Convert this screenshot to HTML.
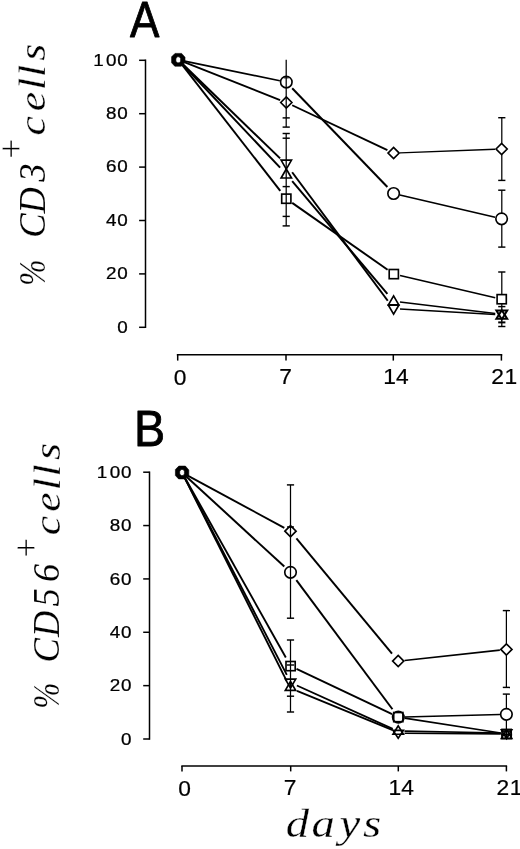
<!DOCTYPE html>
<html><head><meta charset="utf-8"><title>Figure</title>
<style>html,body{margin:0;padding:0;background:#fff}svg{display:block}text{white-space:pre}</style></head>
<body>
<svg width="520" height="849" viewBox="0 0 520 849">
<g fill="none" stroke="#000" stroke-linejoin="miter">
<line x1="145.50" y1="59.50" x2="145.50" y2="328.00" stroke-width="1.5" stroke-linecap="butt"/>
<line x1="139.10" y1="327.30" x2="145.50" y2="327.30" stroke-width="1.5" stroke-linecap="butt"/>
<line x1="139.10" y1="273.90" x2="145.50" y2="273.90" stroke-width="1.5" stroke-linecap="butt"/>
<line x1="139.10" y1="220.50" x2="145.50" y2="220.50" stroke-width="1.5" stroke-linecap="butt"/>
<line x1="139.10" y1="167.10" x2="145.50" y2="167.10" stroke-width="1.5" stroke-linecap="butt"/>
<line x1="139.10" y1="113.70" x2="145.50" y2="113.70" stroke-width="1.5" stroke-linecap="butt"/>
<line x1="139.10" y1="60.30" x2="145.50" y2="60.30" stroke-width="1.5" stroke-linecap="butt"/>
<line x1="176.80" y1="354.80" x2="502.30" y2="354.80" stroke-width="1.5" stroke-linecap="butt"/>
<line x1="177.70" y1="354.80" x2="177.70" y2="360.60" stroke-width="1.5" stroke-linecap="butt"/>
<line x1="286.00" y1="354.80" x2="286.00" y2="360.60" stroke-width="1.5" stroke-linecap="butt"/>
<line x1="393.30" y1="354.80" x2="393.30" y2="360.60" stroke-width="1.5" stroke-linecap="butt"/>
<line x1="501.40" y1="354.80" x2="501.40" y2="360.60" stroke-width="1.5" stroke-linecap="butt"/>
<line x1="184.57" y1="61.11" x2="279.84" y2="80.77" stroke-width="1.64" stroke-linecap="butt"/>
<line x1="292.20" y1="88.23" x2="387.40" y2="187.06" stroke-width="1.98" stroke-linecap="butt"/>
<line x1="399.83" y1="194.96" x2="495.17" y2="217.29" stroke-width="1.67" stroke-linecap="butt"/>
<line x1="184.25" y1="62.19" x2="280.10" y2="100.05" stroke-width="1.8" stroke-linecap="butt"/>
<line x1="292.20" y1="105.28" x2="387.40" y2="150.18" stroke-width="1.85" stroke-linecap="butt"/>
<line x1="400.00" y1="152.86" x2="495.00" y2="149.25" stroke-width="1.46" stroke-linecap="butt"/>
<line x1="182.19" y1="64.93" x2="280.28" y2="190.97" stroke-width="1.96" stroke-linecap="butt"/>
<line x1="292.20" y1="202.84" x2="387.60" y2="269.75" stroke-width="1.95" stroke-linecap="butt"/>
<line x1="400.03" y1="275.55" x2="495.27" y2="297.70" stroke-width="1.67" stroke-linecap="butt"/>
<line x1="182.87" y1="64.32" x2="280.10" y2="158.40" stroke-width="1.98" stroke-linecap="butt"/>
<line x1="292.15" y1="172.26" x2="387.75" y2="300.74" stroke-width="1.96" stroke-linecap="butt"/>
<line x1="399.99" y1="308.97" x2="495.21" y2="314.42" stroke-width="1.48" stroke-linecap="butt"/>
<line x1="182.66" y1="64.52" x2="280.10" y2="167.64" stroke-width="1.98" stroke-linecap="butt"/>
<line x1="292.20" y1="181.19" x2="387.40" y2="293.96" stroke-width="1.97" stroke-linecap="butt"/>
<line x1="399.95" y1="302.06" x2="495.25" y2="313.42" stroke-width="1.55" stroke-linecap="butt"/>
<path d="M171.60 56.80L175.00 53.40L181.60 53.40L185.00 57.20L185.00 62.40L181.40 66.20L174.80 66.20L171.60 62.80Z M175.90 58.80L175.90 61.40L177.60 62.80L179.40 62.80L180.60 61.20L180.60 58.40L179.20 56.80L177.20 56.80Z" fill="#000" fill-rule="evenodd" stroke-width="0.6" stroke-linejoin="round"/>
<circle cx="286.30" cy="82.10" r="5.75" stroke-width="1.65"/>
<circle cx="393.60" cy="193.50" r="5.75" stroke-width="1.65"/>
<circle cx="501.60" cy="218.80" r="5.75" stroke-width="1.65"/>
<path d="M280.70 102.50L286.30 96.90L291.90 102.50L286.30 108.10Z" stroke-width="1.65"/>
<path d="M388.00 153.10L393.60 147.50L399.20 153.10L393.60 158.70Z" stroke-width="1.65"/>
<path d="M496.00 149.00L501.60 143.40L507.20 149.00L501.60 154.60Z" stroke-width="1.65"/>
<rect x="281.70" y="194.10" width="9.2" height="9.2" stroke-width="1.65"/>
<rect x="389.20" y="269.50" width="9.2" height="9.2" stroke-width="1.65"/>
<rect x="497.10" y="294.60" width="9.2" height="9.2" stroke-width="1.65"/>
<path d="M281.10 160.10L291.50 160.10L286.30 169.10Z" stroke-width="1.65"/>
<path d="M281.10 178.00L291.50 178.00L286.30 169.00Z" stroke-width="1.65"/>
<path d="M388.40 304.80L398.80 304.80L393.60 295.80Z" stroke-width="1.65"/>
<path d="M388.40 305.20L398.80 305.20L393.60 314.10Z" stroke-width="1.65"/>
<path d="M496.40 318.80L507.20 318.80L501.80 310.20Z" stroke-width="2.0"/>
<path d="M496.40 310.60L507.20 310.60L501.80 319.40Z" stroke-width="2.0"/>
<line x1="286.20" y1="59.80" x2="286.20" y2="127.10" stroke-width="1.25" stroke-linecap="butt"/>
<line x1="286.20" y1="133.50" x2="286.20" y2="225.90" stroke-width="1.25" stroke-linecap="butt"/>
<line x1="282.60" y1="117.90" x2="289.80" y2="117.90" stroke-width="1.45" stroke-linecap="butt"/>
<line x1="282.60" y1="127.10" x2="289.80" y2="127.10" stroke-width="1.45" stroke-linecap="butt"/>
<line x1="282.60" y1="133.50" x2="289.80" y2="133.50" stroke-width="1.45" stroke-linecap="butt"/>
<line x1="282.60" y1="138.20" x2="289.80" y2="138.20" stroke-width="1.45" stroke-linecap="butt"/>
<line x1="282.60" y1="186.60" x2="289.80" y2="186.60" stroke-width="1.45" stroke-linecap="butt"/>
<line x1="282.60" y1="216.40" x2="289.80" y2="216.40" stroke-width="1.45" stroke-linecap="butt"/>
<line x1="282.60" y1="225.90" x2="289.80" y2="225.90" stroke-width="1.45" stroke-linecap="butt"/>
<line x1="283.70" y1="77.90" x2="288.70" y2="77.90" stroke-width="1.0" stroke-linecap="butt"/>
<line x1="501.80" y1="117.70" x2="501.80" y2="143.50" stroke-width="1.25" stroke-linecap="butt"/>
<line x1="501.80" y1="154.50" x2="501.80" y2="180.40" stroke-width="1.25" stroke-linecap="butt"/>
<line x1="498.20" y1="117.70" x2="505.40" y2="117.70" stroke-width="1.45" stroke-linecap="butt"/>
<line x1="498.20" y1="180.40" x2="505.40" y2="180.40" stroke-width="1.45" stroke-linecap="butt"/>
<line x1="501.80" y1="190.20" x2="501.80" y2="213.00" stroke-width="1.25" stroke-linecap="butt"/>
<line x1="501.80" y1="224.60" x2="501.80" y2="247.10" stroke-width="1.25" stroke-linecap="butt"/>
<line x1="498.20" y1="190.20" x2="505.40" y2="190.20" stroke-width="1.45" stroke-linecap="butt"/>
<line x1="498.20" y1="247.10" x2="505.40" y2="247.10" stroke-width="1.45" stroke-linecap="butt"/>
<line x1="501.80" y1="272.00" x2="501.80" y2="294.50" stroke-width="1.25" stroke-linecap="butt"/>
<line x1="498.20" y1="272.00" x2="505.40" y2="272.00" stroke-width="1.45" stroke-linecap="butt"/>
<line x1="501.80" y1="304.00" x2="501.80" y2="309.50" stroke-width="1.25" stroke-linecap="butt"/>
<line x1="498.20" y1="306.60" x2="505.40" y2="306.60" stroke-width="1.45" stroke-linecap="butt"/>
<line x1="501.80" y1="319.50" x2="501.80" y2="326.50" stroke-width="1.25" stroke-linecap="butt"/>
<line x1="498.20" y1="322.40" x2="505.40" y2="322.40" stroke-width="2.0" stroke-linecap="butt"/>
<line x1="498.20" y1="326.50" x2="505.40" y2="326.50" stroke-width="1.45" stroke-linecap="butt"/>
<line x1="149.50" y1="471.50" x2="149.50" y2="739.70" stroke-width="1.5" stroke-linecap="butt"/>
<line x1="143.20" y1="739.00" x2="149.50" y2="739.00" stroke-width="1.5" stroke-linecap="butt"/>
<line x1="143.20" y1="685.64" x2="149.50" y2="685.64" stroke-width="1.5" stroke-linecap="butt"/>
<line x1="143.20" y1="632.28" x2="149.50" y2="632.28" stroke-width="1.5" stroke-linecap="butt"/>
<line x1="143.20" y1="578.92" x2="149.50" y2="578.92" stroke-width="1.5" stroke-linecap="butt"/>
<line x1="143.20" y1="525.56" x2="149.50" y2="525.56" stroke-width="1.5" stroke-linecap="butt"/>
<line x1="143.20" y1="472.20" x2="149.50" y2="472.20" stroke-width="1.5" stroke-linecap="butt"/>
<line x1="181.30" y1="766.00" x2="507.10" y2="766.00" stroke-width="1.5" stroke-linecap="butt"/>
<line x1="182.00" y1="766.00" x2="182.00" y2="771.40" stroke-width="1.5" stroke-linecap="butt"/>
<line x1="290.70" y1="766.00" x2="290.70" y2="771.40" stroke-width="1.5" stroke-linecap="butt"/>
<line x1="398.30" y1="766.00" x2="398.30" y2="771.40" stroke-width="1.5" stroke-linecap="butt"/>
<line x1="506.40" y1="766.00" x2="506.40" y2="771.40" stroke-width="1.5" stroke-linecap="butt"/>
<line x1="186.78" y1="476.90" x2="284.30" y2="566.60" stroke-width="1.98" stroke-linecap="butt"/>
<line x1="296.35" y1="580.16" x2="392.45" y2="709.24" stroke-width="1.96" stroke-linecap="butt"/>
<line x1="404.70" y1="716.93" x2="500.00" y2="714.47" stroke-width="1.45" stroke-linecap="butt"/>
<line x1="187.72" y1="475.59" x2="284.30" y2="527.85" stroke-width="1.89" stroke-linecap="butt"/>
<line x1="296.40" y1="538.32" x2="392.00" y2="653.62" stroke-width="1.97" stroke-linecap="butt"/>
<line x1="404.56" y1="660.41" x2="499.84" y2="650.11" stroke-width="1.54" stroke-linecap="butt"/>
<line x1="185.18" y1="478.17" x2="285.81" y2="657.55" stroke-width="1.9" stroke-linecap="butt"/>
<line x1="296.50" y1="668.89" x2="392.10" y2="714.16" stroke-width="1.85" stroke-linecap="butt"/>
<line x1="404.62" y1="718.09" x2="500.67" y2="733.07" stroke-width="1.59" stroke-linecap="butt"/>
<line x1="184.99" y1="478.27" x2="286.82" y2="674.90" stroke-width="1.88" stroke-linecap="butt"/>
<line x1="184.92" y1="478.31" x2="286.64" y2="680.82" stroke-width="1.87" stroke-linecap="butt"/>
<line x1="296.88" y1="685.49" x2="392.73" y2="728.92" stroke-width="1.84" stroke-linecap="butt"/>
<line x1="296.98" y1="690.86" x2="392.65" y2="730.12" stroke-width="1.81" stroke-linecap="butt"/>
<line x1="404.50" y1="731.12" x2="500.80" y2="732.99" stroke-width="1.7" stroke-linecap="butt"/>
<line x1="404.50" y1="733.24" x2="500.80" y2="733.86" stroke-width="1.7" stroke-linecap="butt"/>
<path d="M175.40 469.50L178.80 466.10L185.40 466.10L188.80 469.90L188.80 475.10L185.20 478.90L178.60 478.90L175.40 475.50Z M179.70 471.50L179.70 474.10L181.40 475.50L183.20 475.50L184.40 473.90L184.40 471.10L183.00 469.50L181.00 469.50Z" fill="#000" fill-rule="evenodd" stroke-width="0.6" stroke-linejoin="round"/>
<circle cx="290.50" cy="572.30" r="5.75" stroke-width="1.65"/>
<circle cx="398.30" cy="717.10" r="5.75" stroke-width="1.65"/>
<circle cx="506.40" cy="714.30" r="5.75" stroke-width="1.65"/>
<path d="M284.90 531.20L290.50 525.60L296.10 531.20L290.50 536.80Z" stroke-width="1.65"/>
<path d="M392.60 661.10L398.20 655.50L403.80 661.10L398.20 666.70Z" stroke-width="1.65"/>
<path d="M500.80 649.40L506.40 643.80L512.00 649.40L506.40 655.00Z" stroke-width="1.65"/>
<rect x="286.00" y="661.50" width="9.2" height="9.2" stroke-width="1.65"/>
<rect x="393.70" y="712.50" width="9.2" height="9.2" stroke-width="1.65"/>
<rect x="502.00" y="729.40" width="9.2" height="9.2" stroke-width="1.65"/>
<path d="M285.30 679.10L295.70 679.10L290.50 688.00Z" stroke-width="1.65"/>
<path d="M285.30 690.40L295.70 690.40L290.50 681.50Z" stroke-width="1.65"/>
<path d="M393.00 734.20L403.40 734.20L398.20 725.90Z" stroke-width="1.65"/>
<path d="M393.00 730.40L403.40 730.40L398.20 738.30Z" stroke-width="1.65"/>
<path d="M501.40 738.30L511.80 738.30L506.60 729.50Z" stroke-width="1.65"/>
<path d="M501.40 729.80L511.80 729.80L506.60 738.60Z" stroke-width="1.65"/>
<line x1="290.50" y1="484.90" x2="290.50" y2="618.20" stroke-width="1.25" stroke-linecap="butt"/>
<line x1="290.50" y1="640.00" x2="290.50" y2="712.00" stroke-width="1.25" stroke-linecap="butt"/>
<line x1="286.90" y1="484.90" x2="294.10" y2="484.90" stroke-width="1.45" stroke-linecap="butt"/>
<line x1="286.90" y1="618.20" x2="294.10" y2="618.20" stroke-width="1.45" stroke-linecap="butt"/>
<line x1="286.90" y1="640.00" x2="294.10" y2="640.00" stroke-width="1.45" stroke-linecap="butt"/>
<line x1="286.90" y1="665.00" x2="294.10" y2="665.00" stroke-width="1.45" stroke-linecap="butt"/>
<line x1="286.90" y1="696.20" x2="294.10" y2="696.20" stroke-width="1.45" stroke-linecap="butt"/>
<line x1="286.90" y1="712.00" x2="294.10" y2="712.00" stroke-width="1.45" stroke-linecap="butt"/>
<line x1="287.10" y1="527.00" x2="293.90" y2="527.00" stroke-width="1.6" stroke-linecap="butt"/>
<line x1="506.40" y1="610.60" x2="506.40" y2="643.80" stroke-width="1.25" stroke-linecap="butt"/>
<line x1="506.40" y1="655.00" x2="506.40" y2="687.40" stroke-width="1.25" stroke-linecap="butt"/>
<line x1="502.80" y1="610.60" x2="510.00" y2="610.60" stroke-width="1.45" stroke-linecap="butt"/>
<line x1="502.80" y1="687.40" x2="510.00" y2="687.40" stroke-width="1.45" stroke-linecap="butt"/>
<line x1="506.40" y1="694.10" x2="506.40" y2="708.50" stroke-width="1.25" stroke-linecap="butt"/>
<line x1="502.80" y1="694.10" x2="510.00" y2="694.10" stroke-width="1.45" stroke-linecap="butt"/>
<line x1="506.40" y1="720.20" x2="506.40" y2="729.00" stroke-width="1.25" stroke-linecap="butt"/>
<line x1="506.40" y1="729.00" x2="506.40" y2="739.00" stroke-width="1.6" stroke-linecap="butt"/>
<line x1="501.60" y1="731.20" x2="511.60" y2="731.20" stroke-width="1.5" stroke-linecap="butt"/>
<line x1="501.10" y1="734.60" x2="512.10" y2="734.60" stroke-width="2.2" stroke-linecap="butt"/>
</g>
<g fill="#000">
<text transform="translate(0 36.50) scale(0.8809 1)" x="147.46" y="0" font-family='"Liberation Sans", sans-serif' stroke="#000" stroke-width="0.8" stroke-linejoin="round" font-size="50.04">A</text>
<text transform="translate(0 446.10) scale(0.9345 1)" x="143.33" y="0" font-family='"Liberation Sans", sans-serif' stroke="#000" stroke-width="0.8" stroke-linejoin="round" font-size="50.04">B</text>
<text transform="translate(0 65.64) scale(1.1697 1)" x="79.80 90.57 100.23" y="0" font-family='"Liberation Sans", sans-serif' stroke="#000" stroke-width="0.25" stroke-linejoin="round" font-size="16.11">100</text>
<text transform="translate(0 119.04) scale(1.1697 1)" x="90.59 100.23" y="0" font-family='"Liberation Sans", sans-serif' stroke="#000" stroke-width="0.25" stroke-linejoin="round" font-size="16.11">80</text>
<text transform="translate(0 172.44) scale(1.1697 1)" x="90.53 100.23" y="0" font-family='"Liberation Sans", sans-serif' stroke="#000" stroke-width="0.25" stroke-linejoin="round" font-size="16.11">60</text>
<text transform="translate(0 225.84) scale(1.1697 1)" x="90.63 100.23" y="0" font-family='"Liberation Sans", sans-serif' stroke="#000" stroke-width="0.25" stroke-linejoin="round" font-size="16.11">40</text>
<text transform="translate(0 279.24) scale(1.1697 1)" x="90.59 100.23" y="0" font-family='"Liberation Sans", sans-serif' stroke="#000" stroke-width="0.25" stroke-linejoin="round" font-size="16.11">20</text>
<text transform="translate(0 332.64) scale(1.1697 1)" x="100.23" y="0" font-family='"Liberation Sans", sans-serif' stroke="#000" stroke-width="0.25" stroke-linejoin="round" font-size="16.11">0</text>
<text transform="translate(0 477.84) scale(1.1697 1)" x="82.79 93.82 103.48" y="0" font-family='"Liberation Sans", sans-serif' stroke="#000" stroke-width="0.25" stroke-linejoin="round" font-size="16.11">100</text>
<text transform="translate(0 531.20) scale(1.1697 1)" x="93.84 103.48" y="0" font-family='"Liberation Sans", sans-serif' stroke="#000" stroke-width="0.25" stroke-linejoin="round" font-size="16.11">80</text>
<text transform="translate(0 584.56) scale(1.1697 1)" x="93.78 103.48" y="0" font-family='"Liberation Sans", sans-serif' stroke="#000" stroke-width="0.25" stroke-linejoin="round" font-size="16.11">60</text>
<text transform="translate(0 637.92) scale(1.1697 1)" x="93.88 103.48" y="0" font-family='"Liberation Sans", sans-serif' stroke="#000" stroke-width="0.25" stroke-linejoin="round" font-size="16.11">40</text>
<text transform="translate(0 691.28) scale(1.1697 1)" x="93.84 103.48" y="0" font-family='"Liberation Sans", sans-serif' stroke="#000" stroke-width="0.25" stroke-linejoin="round" font-size="16.11">20</text>
<text transform="translate(0 744.64) scale(1.1697 1)" x="103.48" y="0" font-family='"Liberation Sans", sans-serif' stroke="#000" stroke-width="0.25" stroke-linejoin="round" font-size="16.11">0</text>
<text transform="translate(0 384.59) scale(1.0767 1)" x="161.46" y="0" font-family='"Liberation Sans", sans-serif' stroke="#000" stroke-width="0.2" stroke-linejoin="round" font-size="21.20">0</text>
<text transform="translate(0 384.49) scale(1.0767 1)" x="259.47" y="0" font-family='"Liberation Sans", sans-serif' stroke="#000" stroke-width="0.2" stroke-linejoin="round" font-size="21.20">7</text>
<text transform="translate(0 384.49) scale(1.0767 1)" x="355.86 367.86" y="0" font-family='"Liberation Sans", sans-serif' stroke="#000" stroke-width="0.2" stroke-linejoin="round" font-size="21.20">14</text>
<text transform="translate(0 384.49) scale(1.0767 1)" x="456.18 468.62" y="0" font-family='"Liberation Sans", sans-serif' stroke="#000" stroke-width="0.2" stroke-linejoin="round" font-size="21.20">21</text>
<text transform="translate(0 795.69) scale(1.0767 1)" x="165.45" y="0" font-family='"Liberation Sans", sans-serif' stroke="#000" stroke-width="0.2" stroke-linejoin="round" font-size="21.20">0</text>
<text transform="translate(0 794.79) scale(1.0767 1)" x="263.60" y="0" font-family='"Liberation Sans", sans-serif' stroke="#000" stroke-width="0.2" stroke-linejoin="round" font-size="21.20">7</text>
<text transform="translate(0 794.79) scale(1.0767 1)" x="360.88 372.74" y="0" font-family='"Liberation Sans", sans-serif' stroke="#000" stroke-width="0.2" stroke-linejoin="round" font-size="21.20">14</text>
<text transform="translate(0 794.79) scale(1.0767 1)" x="461.06 473.35" y="0" font-family='"Liberation Sans", sans-serif' stroke="#000" stroke-width="0.2" stroke-linejoin="round" font-size="21.20">21</text>
<text transform="translate(0 837.30) scale(1.1800 1)" x="242.11 264.04 287.76 307.73" y="0" font-family='"Liberation Serif", serif' font-style="italic" stroke="#fff" stroke-width="0.3" font-size="39.50">days</text>
<text transform="translate(44.50 0) rotate(-90) scale(0.8181 1)" x="-349.34" y="0" font-family='"Liberation Serif", serif' font-style="italic" stroke="#fff" stroke-width="0.25" font-size="38.50">%</text>
<text transform="translate(44.50 0) rotate(-90) scale(0.9500 1)" x="-250.15 -224.64 -191.32" y="0" font-family='"Liberation Serif", serif' font-style="italic" stroke="#fff" stroke-width="0.1" font-size="38.50">CD3</text>
<text transform="translate(22.90 0) rotate(-90) scale(1.0145 1)" x="-158.59" y="0" font-family='"Liberation Serif", serif' font-style="italic" stroke="#fff" stroke-width="0.3" font-size="35.00">+</text>
<text transform="translate(45.00 0) rotate(-90) scale(1.1600 1)" x="-116.89 -95.88 -77.62 -66.46 -52.43" y="0" font-family='"Liberation Serif", serif' font-style="italic" stroke="#fff" stroke-width="0.3" font-size="37.80">cells</text>
<text transform="translate(58.80 0) rotate(-90) scale(0.8037 1)" x="-881.69" y="0" font-family='"Liberation Serif", serif' font-style="italic" stroke="#fff" stroke-width="0.25" font-size="38.50">%</text>
<text transform="translate(58.80 0) rotate(-90) scale(0.9500 1)" x="-697.47 -670.54 -638.39 -612.72" y="0" font-family='"Liberation Serif", serif' font-style="italic" stroke="#fff" stroke-width="0.1" font-size="38.50">CD56</text>
<text transform="translate(37.90 0) rotate(-90) scale(0.9840 1)" x="-568.80" y="0" font-family='"Liberation Serif", serif' font-style="italic" stroke="#fff" stroke-width="0.3" font-size="35.00">+</text>
<text transform="translate(59.60 0) rotate(-90) scale(1.1600 1)" x="-461.46 -441.22 -422.71 -410.77 -396.52" y="0" font-family='"Liberation Serif", serif' font-style="italic" stroke="#fff" stroke-width="0.3" font-size="37.80">cells</text>
</g>
</svg>
</body></html>
